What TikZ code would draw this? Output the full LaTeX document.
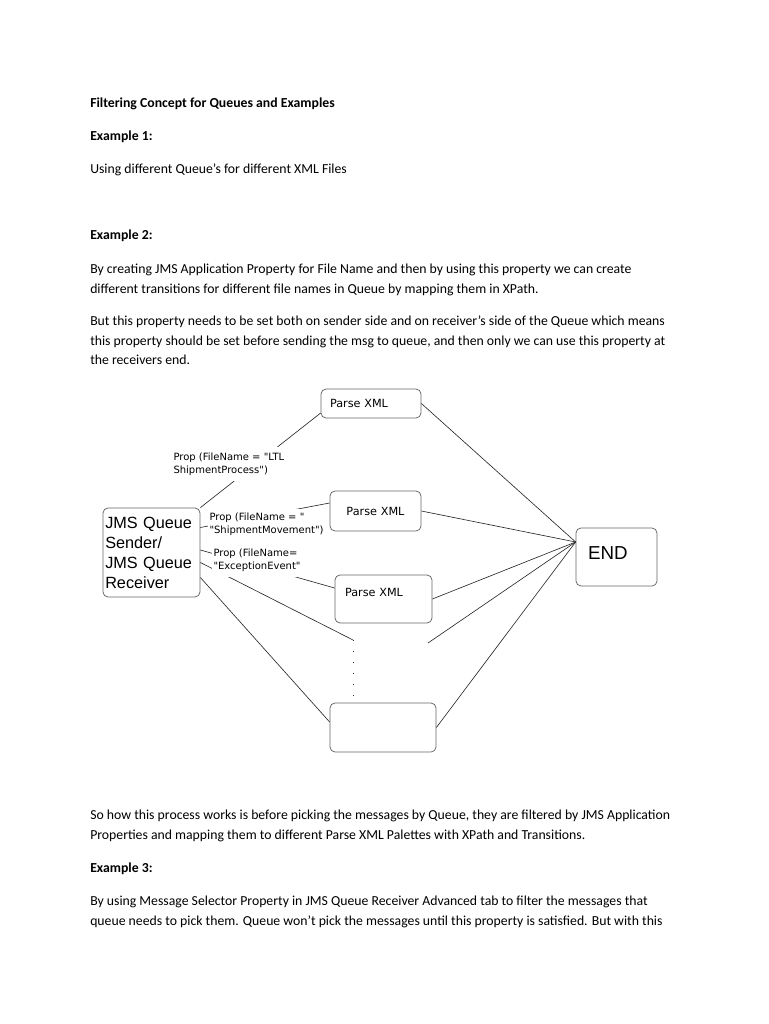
\documentclass[tikz,border=0pt]{standalone}
\usepackage{fontspec}
\setmainfont{Carlito}
\newfontfamily\diagfont{DejaVu Sans}
\newfontfamily\boxfont{Liberation Sans}
\usetikzlibrary{positioning}

\tikzset{
  para/.style={anchor=base west, inner sep=0pt, font=\fontsize{11}{13}\selectfont},
  head/.style={para, font=\fontsize{11}{13}\selectfont\bfseries},
  box/.style={draw=black!60, rounded corners=4pt, line width=0.6pt, inner xsep=0pt},
  pbox/.style={box, font=\diagfont\fontsize{9}{11}\selectfont},
  prop/.style={fill=white, anchor=west, align=left, inner xsep=1pt, font=\diagfont\fontsize{8}{10}\selectfont},
  link/.style={draw=black!85, line width=0.5pt},
}

\begin{document}
\begin{tikzpicture}[x=0.8pt, y=-0.8pt]
  \fill[white] (0,0) rectangle (768,1024);
  \useasboundingbox (0,0) rectangle (768,1024);

  % Texto de cima
  \node[head] (title) at (90,107.5) {Filtering Concept for Queues and Examples};
  \node[head] (ex1) at (90,140.5) {Example 1:};
  \node[para] (ex1a) at (90,173.5) {Using different Queue’s for different XML Files};
  \node[head] (ex2) at (90,239.5) {Example 2:};
  \node[para] (ex2a) at (90,273.5) {By creating JMS Application Property for File Name and then by using this property we can create};
  \node[para] (ex2b) at (90,293) {different transitions for different file names in Queue by mapping them in XPath.};
  \node[para] (ex2c) at (90,325.5) {But this property needs to be set both on sender side and on receiver’s side of the Queue which means};
  \node[para] (ex2d) at (90,345) {this property should be set before sending the msg to queue, and then only we can use this property at};
  \node[para] (ex2e) at (90,364.5) {the receivers end.};

  % Caixas
  \node[box, text width=74pt, align=left, inner xsep=1pt, minimum width=77.6pt, minimum height=71.2pt,
        font=\boxfont\fontsize{13}{16}\selectfont] (jms) at (151.5,552.5) {JMS Queue\\Sender/\\JMS Queue\\Receiver};
  \node[pbox, minimum width=80pt, minimum height=23.2pt, text width=65.6pt, align=left] (p1) at (371,403.5) {Parse XML};
  \node[pbox, minimum width=72.8pt, minimum height=32pt, text width=60pt, align=center] (p2) at (375.5,511) {Parse XML};
  \node[pbox, minimum width=77.6pt, minimum height=38.4pt, text width=61.6pt, align=left, text depth=11pt] (p3) at (383.5,599) {Parse XML};
  \node[box, minimum width=84.8pt, minimum height=39.2pt] (pn) at (383,727.5) {};
  \node[box, minimum width=64.8pt, minimum height=46.4pt, text width=45.6pt, align=left, text depth=6.4pt,
        font=\boxfont\fontsize{15}{18}\selectfont] (endn) at (616.5,557) {END};

  % Pontos
  \coordinate (dtop) at (353,640);
  \coordinate (dbot) at (353,700);
  \coordinate (dright) at (428,643);
  \coordinate (join) at ([yshift=12pt]endn.west);
  \draw[black!80, line width=0.8pt, dash pattern=on 0.8pt off 8pt] (dtop) -- (dbot);

  % Ligacoes
  \draw[link] (jms.north east) -- (p1.south west |- 0,413);
  \draw[link] ([yshift=20pt]jms.east) -- ([yshift=6.4pt]p2.west);
  \draw[link] ([yshift=2pt]jms.east) -- ([yshift=8.8pt]p3.west);
  \draw[link] ([yshift=-8pt]jms.east) -- (dtop);
  \draw[link] ([yshift=-20pt]jms.east) -- ([yshift=4.4pt]pn.west);
  \draw[link] (p1.east) -- (join);
  \draw[link] (p2.east) -- (join);
  \draw[link] (p3.east) -- (join);
  \draw[link] (dright) -- (join);
  \draw[link] (pn.east) -- (join);

  % Rotulos
  \node[prop, inner ysep=5pt] (prop1) at (172,464) {Prop (FileName = "LTL\\ShipmentProcess")};
  \node[prop, inner ysep=3pt] (prop2) at (208,524) {Prop (FileName = "\\"ShipmentMovement")};
  \node[prop, inner ysep=5pt] (prop3) at (212,560) {Prop (FileName=\\"ExceptionEvent"};

  % Texto de baixo
  \node[para] (so1) at (90,819.5) {So how this process works is before picking the messages by Queue, they are filtered by JMS Application};
  \node[para] (so2) at (90,839) {Properties and mapping them to different Parse XML Palettes with XPath and Transitions.};
  \node[head] (ex3) at (90,872.5) {Example 3:};
  \node[para] (ex3a) at (90,905.5) {By using Message Selector Property in JMS Queue Receiver Advanced tab to filter the messages that};
  \node[para] (ex3b) at (90,925) {queue needs to pick them. Queue won’t pick the messages until this property is satisfied. But with this};
\end{tikzpicture}
\end{document}
